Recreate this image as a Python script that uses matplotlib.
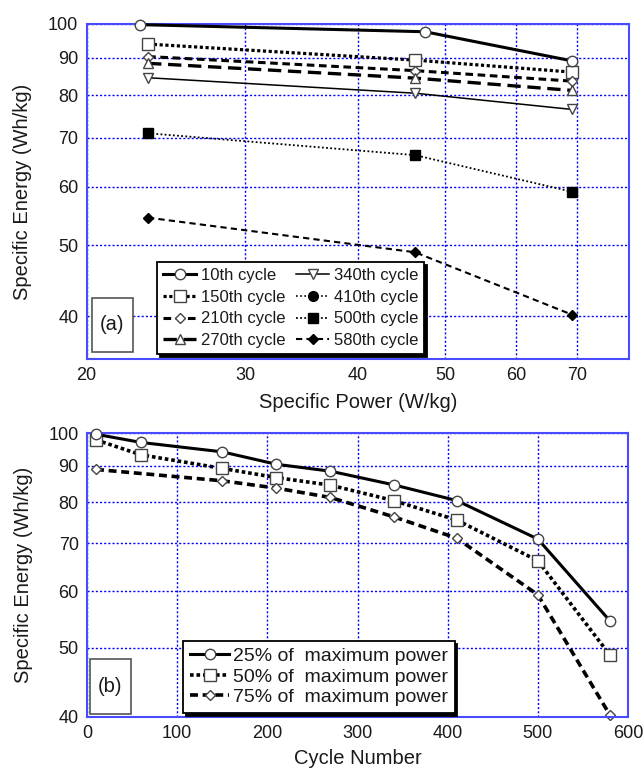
import matplotlib
matplotlib.use("Agg")
import matplotlib.pyplot as plt
from matplotlib.ticker import FixedLocator, NullLocator, FixedFormatter
from matplotlib.patches import Rectangle

plt.rcParams['font.family'] = ['Liberation Sans', 'DejaVu Sans']

# (a) energia especifica vs potencia especifica, por ciclo
potencia_10 = [22.9, 47.5, 69.1]
energia_10 = [99.8, 97.6, 89.1]
potencia = [23.4, 46.3, 69.2]
energia_150 = [93.9, 89.3, 86.0]
energia_210 = [90.3, 86.4, 83.6]
energia_270 = [88.4, 84.4, 81.2]
energia_340 = [84.5, 80.5, 76.5]
energia_500 = [71.0, 66.3, 59.1]
energia_580 = [54.5, 48.9, 40.2]
# el ciclo 410 solo aparece en la leyenda de la figura original

# (b) energia especifica vs numero de ciclo
ciclos = [10, 60, 150, 210, 270, 340, 410, 500, 580]
e_25 = [99.6, 97.0, 94.1, 90.4, 88.4, 84.6, 80.4, 71.0, 54.5]
e_50 = [97.8, 93.2, 89.2, 86.6, 84.5, 80.4, 75.5, 66.2, 48.8]
ciclos_75 = [10, 150, 210, 270, 340, 410, 500, 580]
e_75 = [88.9, 85.7, 83.7, 81.2, 76.3, 71.2, 59.3, 40.2]

ticks_y = [40, 50, 60, 70, 80, 90, 100]
ticks_x_a = [20, 30, 40, 50, 60, 70]

azul = '#0000ff'
borde = '#4a4aff'
texto = '#1a1a1a'

fig = plt.figure(figsize=(6.44, 7.69), dpi=100)
ax1 = fig.add_axes([0.1346, 0.5332, 0.8421, 0.4356])
ax2 = fig.add_axes([0.1351, 0.0680, 0.8401, 0.3689])


def estilo(ax):
    ax.grid(True, color=azul, ls=(0, (1.5, 1.5)), lw=1.0)
    for s in ax.spines.values():
        s.set_color(borde)
        s.set_linewidth(1.5)
    ax.tick_params(length=0, labelsize=13, labelcolor=texto, pad=6)
    ax.set_yscale('log')
    ax.yaxis.set_major_locator(FixedLocator(ticks_y))
    ax.yaxis.set_major_formatter(FixedFormatter([str(t) for t in ticks_y]))
    ax.yaxis.set_minor_locator(NullLocator())
    ax.set_ylabel('Specific Energy (Wh/kg)', fontsize=14.5, color=texto)
    ax.yaxis.set_label_coords(-0.10, 0.5)


# ---------- (a) ----------
ax = ax1
estilo(ax)
ax.set_xscale('log')
ax.set_xlim(20, 80)
ax.set_ylim(35, 100)
ax.xaxis.set_major_locator(FixedLocator(ticks_x_a))
ax.xaxis.set_major_formatter(FixedFormatter([str(t) for t in ticks_x_a]))
ax.xaxis.set_minor_locator(NullLocator())
ax.set_xlabel('Specific Power (W/kg)', fontsize=14.5, color=texto, labelpad=6)

abierto = dict(mfc='white', mec='#444444', mew=1.0, color='black', clip_on=False)
lleno = dict(mfc='black', mec='black', color='black', clip_on=False)

l10, = ax.plot(potencia_10, energia_10, '-', lw=2.2, marker='o', ms=7.5, **abierto, zorder=5)
l150, = ax.plot(potencia, energia_150, ls=(0, (1, 0.8)), lw=2.3, marker='s', ms=8, **abierto)
l210, = ax.plot(potencia, energia_210, ls=(0, (2.5, 1.5)), lw=2.2, marker='D', ms=5.5, **abierto)
l270, = ax.plot(potencia, energia_270, ls=(0, (4, 2)), lw=2.4, marker='^', ms=7, **abierto)
l340, = ax.plot(potencia, energia_340, '-', lw=1.1, marker='v', ms=7, **abierto)
l410, = ax.plot([], [], ls=(0, (1, 1.5)), lw=1.2, marker='o', ms=7, **lleno)
l500, = ax.plot(potencia, energia_500, ls=(0, (1, 1.3)), lw=1.3, marker='s', ms=7.5, **lleno)
l580, = ax.plot(potencia, energia_580, ls=(0, (3, 2)), lw=1.5, marker='D', ms=5.5, **lleno)

leg = ax.legend([l10, l150, l210, l270, l340, l410, l500, l580],
                ['10th cycle', '150th cycle', '210th cycle', '270th cycle',
                 '340th cycle', '410th cycle', '500th cycle', '580th cycle'],
                ncol=2, loc='lower left', bbox_to_anchor=(0.13, 0.015),
                borderaxespad=0, fontsize=12, handlelength=2.0,
                handletextpad=0.3, labelspacing=0.4, columnspacing=0.6,
                borderpad=0.35, fancybox=False, framealpha=1, edgecolor='black',
                shadow={'color': 'black', 'alpha': 1})
leg.get_frame().set_linewidth(1.3)
for t in leg.get_texts():
    t.set_color(texto)

ax.add_patch(Rectangle((0.0098, 0.021), 0.0756, 0.161, transform=ax.transAxes,
                       fill=True, fc='white', ec='#555555', lw=1.2, zorder=6))
ax.text(0.0476, 0.1015, '(a)', transform=ax.transAxes, ha='center', va='center',
        fontsize=14.5, color=texto, zorder=7)

# ---------- (b) ----------
ax = ax2
estilo(ax)
ax.set_xlim(0, 600)
ax.set_ylim(40, 100)
ax.set_xticks([0, 100, 200, 300, 400, 500, 600])
ax.set_xlabel('Cycle Number', fontsize=14.5, color=texto, labelpad=5)

b25, = ax.plot(ciclos, e_25, '-', lw=2.2, marker='o', ms=7.5, **abierto, zorder=5)
b50, = ax.plot(ciclos, e_50, ls=(0, (1, 0.8)), lw=2.6, marker='s', ms=8, **abierto)
b75, = ax.plot(ciclos_75, e_75, ls=(0, (2.2, 1.3)), lw=2.6, marker='D', ms=5, **abierto)

leg2 = ax.legend([b25, b50, b75],
                 ['25% of  maximum power', '50% of  maximum power', '75% of  maximum power'],
                 loc='lower left', bbox_to_anchor=(0.178, 0.013), borderaxespad=0,
                 fontsize=14, handlelength=2.0, handletextpad=0.2,
                 labelspacing=0.15, borderpad=0.35, fancybox=False, framealpha=1,
                 edgecolor='black', shadow={'color': 'black', 'alpha': 1})
leg2.get_frame().set_linewidth(1.3)
for t in leg2.get_texts():
    t.set_color(texto)

ax.add_patch(Rectangle((0.0055, 0.0095), 0.0758, 0.194, transform=ax.transAxes,
                       fill=True, fc='white', ec='#555555', lw=1.2, zorder=6))
ax.text(0.0434, 0.1065, '(b)', transform=ax.transAxes, ha='center', va='center',
        fontsize=14.5, color=texto, zorder=7)

fig.savefig('out.png', dpi=100)
